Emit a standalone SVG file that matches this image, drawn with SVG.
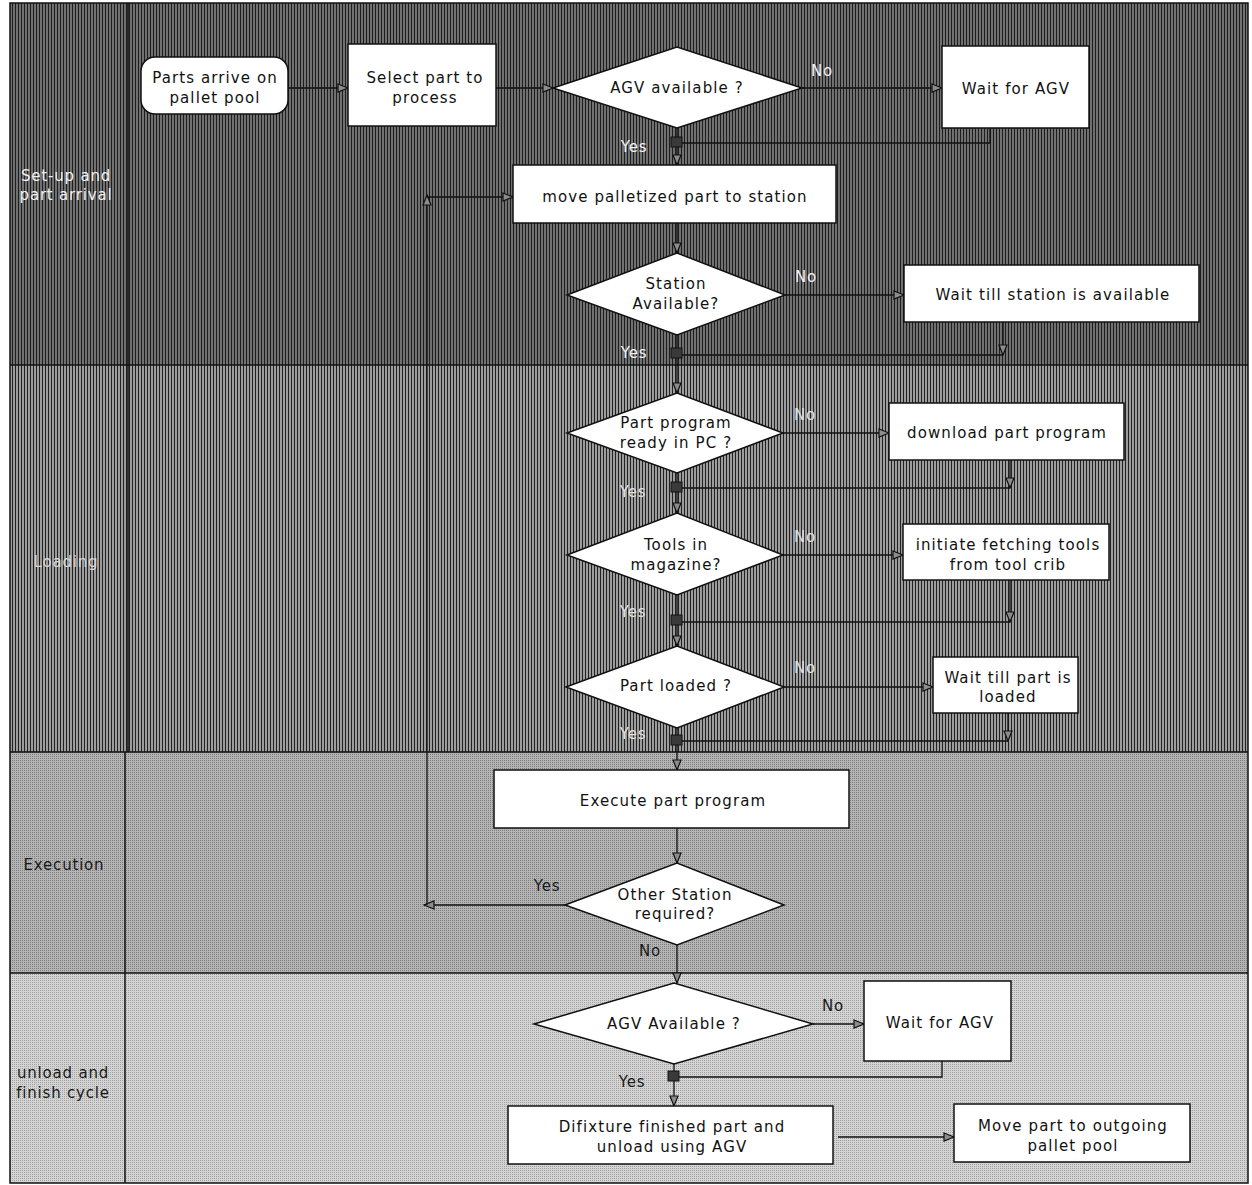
<svg xmlns="http://www.w3.org/2000/svg" width="1252" height="1185" viewBox="0 0 1252 1185">
<defs>
<pattern id="p1" width="3" height="6" patternUnits="userSpaceOnUse"><rect width="3" height="6" fill="#707070"/><rect width="1" height="6" fill="#1e1e1e"/></pattern>
<pattern id="p2" width="3" height="6" patternUnits="userSpaceOnUse"><rect width="3" height="6" fill="#9c9c9c"/><rect width="1" height="6" fill="#222"/></pattern>
<pattern id="p3" width="2" height="2" patternUnits="userSpaceOnUse"><rect width="2" height="2" fill="#b4b4b4"/><rect width="1" height="1" fill="#7e7e7e"/></pattern>
<pattern id="p4" width="2" height="2" patternUnits="userSpaceOnUse"><rect width="2" height="2" fill="#d4d4d4"/><rect width="1" height="1" fill="#a0a0a0"/></pattern>
<marker id="ah" markerWidth="12" markerHeight="10" refX="11" refY="5" orient="auto" markerUnits="userSpaceOnUse">
<path d="M1,1 L11,5 L1,9 Z" fill="#8c8c8c" stroke="#111" stroke-width="1.2"/>
</marker>
</defs>
<style>
.box{fill:#fff;stroke:#111;stroke-width:1.5}
.t{font-family:"DejaVu Sans",Verdana,sans-serif;font-size:15px;letter-spacing:1.1px;fill:#111;text-anchor:middle}
.lbl{font-family:"DejaVu Sans",Verdana,sans-serif;font-size:15px;letter-spacing:0.8px;text-anchor:middle}
.lt{fill:#f0f0f0}
.dk{fill:#1a1a1a}
.c{fill:none;stroke:#111;stroke-width:1.3}
.a{marker-end:url(#ah)}
.j{fill:#3a3a3a;stroke:#111;stroke-width:1}
.lane{stroke:#111;stroke-width:1.5}
</style>

<g id="lanes">
<rect x="10" y="3" width="1238" height="362" fill="url(#p1)"/>
<rect x="10" y="365" width="1238" height="387" fill="url(#p2)"/>
<rect x="10" y="752" width="1238" height="221" fill="url(#p3)"/>
<rect x="10" y="973" width="1238" height="210" fill="url(#p4)"/>
<rect x="10" y="3" width="1238" height="1180" fill="none" class="lane"/>
<line x1="10" y1="365" x2="1248" y2="365" class="lane"/>
<line x1="10" y1="752" x2="1248" y2="752" class="lane"/>
<line x1="10" y1="973" x2="1248" y2="973" class="lane"/>
<line x1="128" y1="3" x2="128" y2="752" class="lane"/>
<line x1="125" y1="752" x2="125" y2="1183" class="lane"/>
<text class="lbl lt" x="66" y="181">Set-up and</text>
<text class="lbl lt" x="66" y="200">part arrival</text>
<text class="lbl" x="66" y="567" fill="#d8d8d8">Loading</text>
<text class="lbl dk" x="64" y="870">Execution</text>
<text class="lbl dk" x="63" y="1078">unload and</text>
<text class="lbl dk" x="63" y="1098">finish cycle</text>
</g>

<g id="connectors">
<line class="c a" x1="288" y1="88" x2="348" y2="88"/>
<line class="c a" x1="496" y1="88" x2="553" y2="88"/>
<line class="c a" x1="802" y1="88" x2="942" y2="88"/>
<polyline class="c" points="990,128 990,143 677,143"/>
<line class="c a" x1="677" y1="128" x2="677" y2="165"/>
<rect class="j" x="671" y="137" width="11" height="10"/>
<line class="c a" x1="677" y1="223" x2="677" y2="253"/>
<line class="c a" x1="785" y1="295" x2="904" y2="295"/>
<line class="c a" x1="1003" y1="322" x2="1003" y2="355"/>
<line class="c" x1="1003" y1="355" x2="677" y2="355"/>
<line class="c a" x1="677" y1="335" x2="677" y2="393"/>
<rect class="j" x="671" y="348" width="11" height="10"/>
<line class="c a" x1="783" y1="433" x2="889" y2="433"/>
<line class="c a" x1="1010" y1="460" x2="1010" y2="488"/>
<line class="c" x1="1010" y1="488" x2="677" y2="488"/>
<line class="c a" x1="677" y1="473" x2="677" y2="513"/>
<rect class="j" x="671" y="482" width="11" height="10"/>
<line class="c a" x1="783" y1="555" x2="903" y2="555"/>
<line class="c a" x1="1010" y1="580" x2="1010" y2="622"/>
<line class="c" x1="1010" y1="622" x2="677" y2="622"/>
<line class="c a" x1="677" y1="595" x2="677" y2="646"/>
<rect class="j" x="671" y="615" width="11" height="10"/>
<line class="c a" x1="784" y1="687" x2="933" y2="687"/>
<line class="c a" x1="1008" y1="713" x2="1008" y2="741"/>
<line class="c" x1="1008" y1="741" x2="677" y2="741"/>
<line class="c a" x1="677" y1="728" x2="677" y2="770"/>
<rect class="j" x="671" y="735" width="11" height="10"/>
<line class="c a" x1="677" y1="828" x2="677" y2="863"/>
<line class="c a" x1="565" y1="905" x2="424" y2="905"/>
<line class="c a" x1="427" y1="905" x2="427" y2="195"/>
<line class="c a" x1="427" y1="197" x2="513" y2="197"/>
<line class="c a" x1="677" y1="945" x2="677" y2="983"/>
<line class="c a" x1="813" y1="1024" x2="864" y2="1024"/>
<polyline class="c" points="942,1061 942,1077 674,1077"/>
<line class="c a" x1="674" y1="1064" x2="674" y2="1106"/>
<rect class="j" x="668" y="1071" width="11" height="10"/>
<line class="c a" x1="838" y1="1137" x2="954" y2="1137"/>
<text class="lbl lt" x="822" y="76">No</text>
<text class="lbl lt" x="634" y="152">Yes</text>
<text class="lbl lt" x="806" y="282">No</text>
<text class="lbl lt" x="634" y="358">Yes</text>
<text class="lbl" fill="#e0e0e0" x="805" y="420">No</text>
<text class="lbl" fill="#e0e0e0" x="633" y="497">Yes</text>
<text class="lbl" fill="#e0e0e0" x="805" y="542">No</text>
<text class="lbl" fill="#e0e0e0" x="633" y="617">Yes</text>
<text class="lbl" fill="#e0e0e0" x="805" y="673">No</text>
<text class="lbl" fill="#e0e0e0" x="633" y="739">Yes</text>
<text class="lbl dk" x="547" y="891">Yes</text>
<text class="lbl dk" x="650" y="956">No</text>
<text class="lbl dk" x="833" y="1011">No</text>
<text class="lbl dk" x="632" y="1087">Yes</text>
</g>

<g id="n1"><rect class="box" x="141" y="57" width="147" height="57" rx="14"/><text class="t" x="215" y="83">Parts arrive on</text><text class="t" x="215" y="103">pallet pool</text></g>
<g id="n2"><rect class="box" x="348" y="44" width="148" height="82"/><text class="t" x="425" y="83">Select part to</text><text class="t" x="425" y="103">process</text></g>
<g id="n3"><polygon class="box" points="553,88 677,47 802,88 677,128"/><text class="t" x="677" y="93">AGV available ?</text></g>
<g id="n4"><rect class="box" x="942" y="46" width="147" height="82"/><text class="t" x="1016" y="94">Wait for AGV</text></g>
<g id="n5"><rect class="box" x="513" y="165" width="323" height="58"/><text class="t" x="675" y="202">move palletized part to station</text></g>
<g id="n6"><polygon class="box" points="567,295 677,253 785,295 677,335"/><text class="t" x="676" y="289">Station</text><text class="t" x="676" y="309">Available?</text></g>
<g id="n7"><rect class="box" x="904" y="265" width="295" height="57"/><text class="t" x="1053" y="300">Wait till station is available</text></g>
<g id="n8"><polygon class="box" points="567,433 677,393 783,433 677,473"/><text class="t" x="676" y="428">Part program</text><text class="t" x="676" y="448">ready in PC ?</text></g>
<g id="n9"><rect class="box" x="889" y="403" width="235" height="57"/><text class="t" x="1007" y="438">download part program</text></g>
<g id="n10"><polygon class="box" points="567,555 677,513 783,555 677,595"/><text class="t" x="676" y="550">Tools  in</text><text class="t" x="676" y="570">magazine?</text></g>
<g id="n11"><rect class="box" x="903" y="524" width="206" height="56"/><text class="t" x="1008" y="550">initiate fetching tools</text><text class="t" x="1008" y="570">from tool crib</text></g>
<g id="n12"><polygon class="box" points="566,687 677,646 784,687 677,728"/><text class="t" x="676" y="691">Part loaded ?</text></g>
<g id="n13"><rect class="box" x="933" y="657" width="145" height="56"/><text class="t" x="1008" y="683">Wait till part is</text><text class="t" x="1008" y="702">loaded</text></g>
<g id="n14"><rect class="box" x="494" y="770" width="355" height="58"/><text class="t" x="673" y="806">Execute part program</text></g>
<g id="n15"><polygon class="box" points="565,905 677,863 784,905 677,945"/><text class="t" x="675" y="900">Other Station</text><text class="t" x="675" y="919">required?</text></g>
<g id="n16"><polygon class="box" points="534,1024 674,983 813,1024 674,1064"/><text class="t" x="674" y="1029">AGV Available ?</text></g>
<g id="n17"><rect class="box" x="864" y="981" width="147" height="80"/><text class="t" x="940" y="1028">Wait for AGV</text></g>
<g id="n18"><rect class="box" x="508" y="1106" width="325" height="58"/><text class="t" x="672" y="1132">Difixture finished part and</text><text class="t" x="672" y="1152">unload using AGV</text></g>
<g id="n19"><rect class="box" x="954" y="1104" width="236" height="58"/><text class="t" x="1073" y="1131">Move part to outgoing</text><text class="t" x="1073" y="1151">pallet pool</text></g>
</svg>
